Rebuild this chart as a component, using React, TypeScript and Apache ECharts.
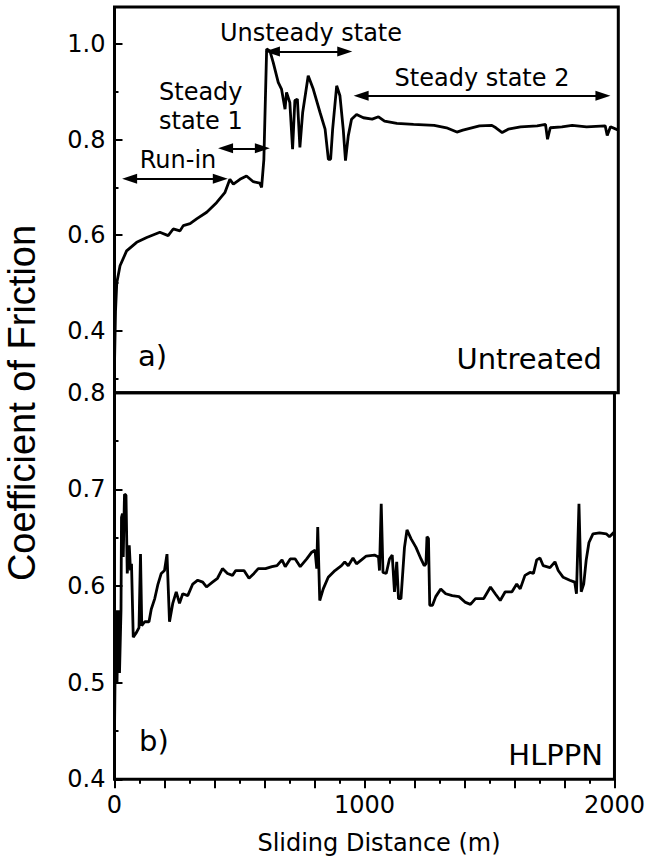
import React, { useEffect, useRef } from 'react';
import * as echarts from 'echarts';

// Panel a) Untreated
const untreatedDistance = [0, 4, 9, 22, 48, 88, 128, 180, 213, 233, 260, 273, 300, 326, 366, 405, 438, 458, 472, 498, 524, 551, 577, 584, 593, 604, 617, 630, 650, 663, 677, 683, 696, 707, 716, 726, 736, 747, 769, 789, 816, 836, 849, 858, 866, 882, 895, 908, 917, 928, 941, 961, 988, 1023, 1048, 1072, 1121, 1187, 1269, 1318, 1359, 1383, 1449, 1498, 1514, 1539, 1563, 1612, 1678, 1711, 1719, 1730, 1776, 1817, 1874, 1948, 1956, 1969, 2000];
const untreatedCof = [0.33, 0.44, 0.5, 0.536, 0.567, 0.585, 0.595, 0.606, 0.599, 0.613, 0.609, 0.62, 0.624, 0.634, 0.648, 0.668, 0.689, 0.717, 0.707, 0.717, 0.724, 0.712, 0.709, 0.7, 0.759, 0.99, 0.986, 0.962, 0.92, 0.906, 0.864, 0.899, 0.878, 0.78, 0.882, 0.885, 0.784, 0.857, 0.934, 0.906, 0.857, 0.822, 0.759, 0.759, 0.822, 0.913, 0.892, 0.822, 0.756, 0.808, 0.843, 0.853, 0.846, 0.843, 0.848, 0.839, 0.834, 0.832, 0.83, 0.825, 0.816, 0.82, 0.829, 0.83, 0.825, 0.815, 0.822, 0.827, 0.829, 0.832, 0.801, 0.825, 0.827, 0.83, 0.827, 0.829, 0.809, 0.827, 0.82];

// Panel b) HLPPN
const hlppnDistance = [0, 5, 10, 15, 20, 26, 28, 32, 35, 40, 46, 51, 59, 64, 68, 75, 88, 98, 104, 109, 121, 138, 147, 161, 174, 187, 200, 210, 220, 233, 247, 260, 273, 293, 313, 333, 353, 368, 392, 412, 432, 452, 472, 485, 518, 538, 558, 575, 604, 630, 650, 670, 683, 703, 723, 743, 769, 789, 802, 809, 813, 821, 835, 855, 882, 908, 921, 935, 954, 968, 988, 1007, 1040, 1056, 1060, 1067, 1074, 1087, 1100, 1111, 1120, 1129, 1136, 1146, 1160, 1170, 1186, 1206, 1226, 1239, 1246, 1250, 1256, 1261, 1272, 1285, 1305, 1325, 1351, 1378, 1404, 1424, 1444, 1477, 1504, 1523, 1543, 1563, 1590, 1609, 1623, 1642, 1662, 1676, 1689, 1702, 1715, 1742, 1762, 1775, 1795, 1821, 1841, 1848, 1858, 1867, 1877, 1887, 1898, 1914, 1940, 1967, 1980, 2000];
const hlppnCof = [0.45, 0.575, 0.5, 0.575, 0.51, 0.575, 0.671, 0.675, 0.63, 0.695, 0.694, 0.613, 0.642, 0.616, 0.623, 0.547, 0.552, 0.557, 0.633, 0.559, 0.563, 0.563, 0.576, 0.587, 0.602, 0.613, 0.616, 0.633, 0.563, 0.582, 0.594, 0.582, 0.592, 0.59, 0.602, 0.606, 0.604, 0.599, 0.604, 0.608, 0.618, 0.613, 0.611, 0.616, 0.616, 0.608, 0.613, 0.618, 0.618, 0.62, 0.621, 0.627, 0.62, 0.628, 0.628, 0.62, 0.628, 0.635, 0.637, 0.618, 0.661, 0.585, 0.597, 0.609, 0.616, 0.621, 0.625, 0.621, 0.629, 0.623, 0.627, 0.631, 0.632, 0.63, 0.616, 0.685, 0.614, 0.613, 0.628, 0.632, 0.594, 0.625, 0.587, 0.587, 0.64, 0.658, 0.649, 0.64, 0.628, 0.621, 0.623, 0.651, 0.649, 0.58, 0.58, 0.589, 0.597, 0.592, 0.59, 0.589, 0.583, 0.581, 0.587, 0.587, 0.599, 0.592, 0.585, 0.594, 0.594, 0.602, 0.597, 0.611, 0.614, 0.613, 0.627, 0.629, 0.621, 0.619, 0.625, 0.616, 0.609, 0.606, 0.604, 0.592, 0.685, 0.594, 0.602, 0.627, 0.645, 0.654, 0.655, 0.654, 0.651, 0.656];

// Annotation arrows (distance start, distance end, CoF level) in panel a)
const arrowLabels = ['Run-in', 'Steady state 1', 'Unsteady state', 'Steady state 2'];
const arrowStart = [60, 441, 627, 979];
const arrowEnd = [420, 587, 914, 1939];
const arrowLevel = [0.718, 0.782, 0.985, 0.892];

const topMajorTicks = [0.4, 0.6, 0.8, 1.0];
const topMinorTicks = [0.3, 0.5, 0.7, 0.9];

const BLACK = '#000';
const TICK_FONT = 'DejaVu Sans';

export default function App() {
  const ref = useRef<HTMLDivElement>(null);
  useEffect(() => {
    if (!ref.current) return;
    const chart = echarts.init(ref.current, null, { renderer: 'svg' });
    const L = 114.5, W = 503.8;
    const topTop = 7, divY = 392.7, botY = 779.3;
    const labelStyle = { fontSize: 24, fontFamily: TICK_FONT, color: BLACK };
    const arrows = arrowLabels.map((name, i) => [
      { name, coord: [arrowStart[i], arrowLevel[i]] },
      { coord: [arrowEnd[i], arrowLevel[i]] },
    ]);
    const txt = (text: string, x: number, y: number, size: number, align: string, font = TICK_FONT, extra: any = {}) => ({
      type: 'text', x, y, z: 100, ...extra,
      style: { text, fontSize: size, fontFamily: font, fill: BLACK, align, verticalAlign: 'middle', lineHeight: extra.lineHeight },
    });
    chart.setOption({
      animation: false,
      backgroundColor: '#fff',
      grid: [
        { left: L, top: topTop, width: W, height: divY - topTop, show: true, borderColor: BLACK, borderWidth: 3, backgroundColor: 'transparent' },
        { left: L, top: divY, width: W, height: botY - divY, show: true, borderColor: BLACK, borderWidth: 3, backgroundColor: 'transparent' },
      ],
      xAxis: [
        { gridIndex: 0, type: 'value', min: 0, max: 2000, interval: 200, axisLine: { show: false }, axisTick: { show: false }, axisLabel: { show: false }, splitLine: { show: false } },
        {
          gridIndex: 1, type: 'value', min: 0, max: 2000, interval: 200,
          axisLine: { show: false },
          axisTick: { show: true, inside: false, length: 9, lineStyle: { color: BLACK, width: 2 } },
          minorTick: { show: true, splitNumber: 2, length: 4.5, lineStyle: { color: BLACK, width: 2 } },
          axisLabel: { ...labelStyle, margin: 14, formatter: (v: number) => (v % 1000 === 0 ? String(v) : '') },
          splitLine: { show: false }, minorSplitLine: { show: false },
        },
      ],
      yAxis: [
        {
          gridIndex: 0, type: 'value', min: 0.27, max: 1.078, position: 'left',
          axisLine: { show: false },
          axisTick: { show: true, inside: true, length: 8, customValues: topMajorTicks, lineStyle: { color: BLACK, width: 2 } },
          axisLabel: { ...labelStyle, margin: 9, customValues: topMajorTicks, formatter: (v: number) => v.toFixed(1) },
          splitLine: { show: false },
        },
        {
          gridIndex: 0, type: 'value', min: 0.27, max: 1.078, position: 'left', offset: 0,
          axisLine: { show: false },
          axisTick: { show: true, inside: true, length: 4, customValues: topMinorTicks, lineStyle: { color: BLACK, width: 2 } },
          axisLabel: { show: false },
          splitLine: { show: false },
        },
        {
          gridIndex: 1, type: 'value', min: 0.4, max: 0.8, interval: 0.1, position: 'left',
          axisLine: { show: false },
          axisTick: { show: true, inside: true, length: 8, lineStyle: { color: BLACK, width: 2 } },
          minorTick: { show: true, splitNumber: 2, length: 4, lineStyle: { color: BLACK, width: 2 } },
          axisLabel: { ...labelStyle, margin: 9, formatter: (v: number) => v.toFixed(1) },
          splitLine: { show: false }, minorSplitLine: { show: false },
        },
      ],
      series: [
        {
          type: 'line', xAxisIndex: 0, yAxisIndex: 0, showSymbol: false, symbol: 'none',
          data: untreatedDistance.map((x, i) => [x, untreatedCof[i]]),
          lineStyle: { color: BLACK, width: 2.8 },
          z: 5,
          markLine: {
            silent: true, symbol: ['triangle', 'triangle'], symbolSize: [10, 15],
            lineStyle: { color: BLACK, width: 2, type: 'solid' },
            itemStyle: { color: BLACK },
            label: { show: false },
            data: arrows,
          },
        },
        {
          type: 'line', xAxisIndex: 1, yAxisIndex: 2, showSymbol: false, symbol: 'none',
          data: hlppnDistance.map((x, i) => [x, hlppnCof[i]]),
          lineStyle: { color: BLACK, width: 2.8 },
          z: 5,
        },
      ],
      graphic: [
        txt('Unsteady state', 311, 33, 24, 'center'),
        txt('Steady\nstate 1', 159, 106.5, 24, 'left', TICK_FONT, { lineHeight: 29 }),
        txt('Run-in', 178, 160, 24, 'center'),
        txt('Steady state 2', 482, 78, 24, 'center'),
        txt('a)', 138, 356, 29, 'left'),
        txt('Untreated', 602, 359, 29, 'right'),
        txt('b)', 139, 741, 29, 'left'),
        txt('HLPPN', 603, 755, 29, 'right'),
        txt('Sliding Distance (m)', 379, 843, 24, 'center'),
        txt('Coefficient of Friction', 22, 403, 38, 'center', 'Liberation Sans', { rotation: Math.PI / 2 }),
      ],
    });
    return () => chart.dispose();
  }, []);
  return <div ref={ref} style={{ position: 'fixed', left: 0, top: 0, width: 648, height: 859, background: '#fff' }} />;
}
